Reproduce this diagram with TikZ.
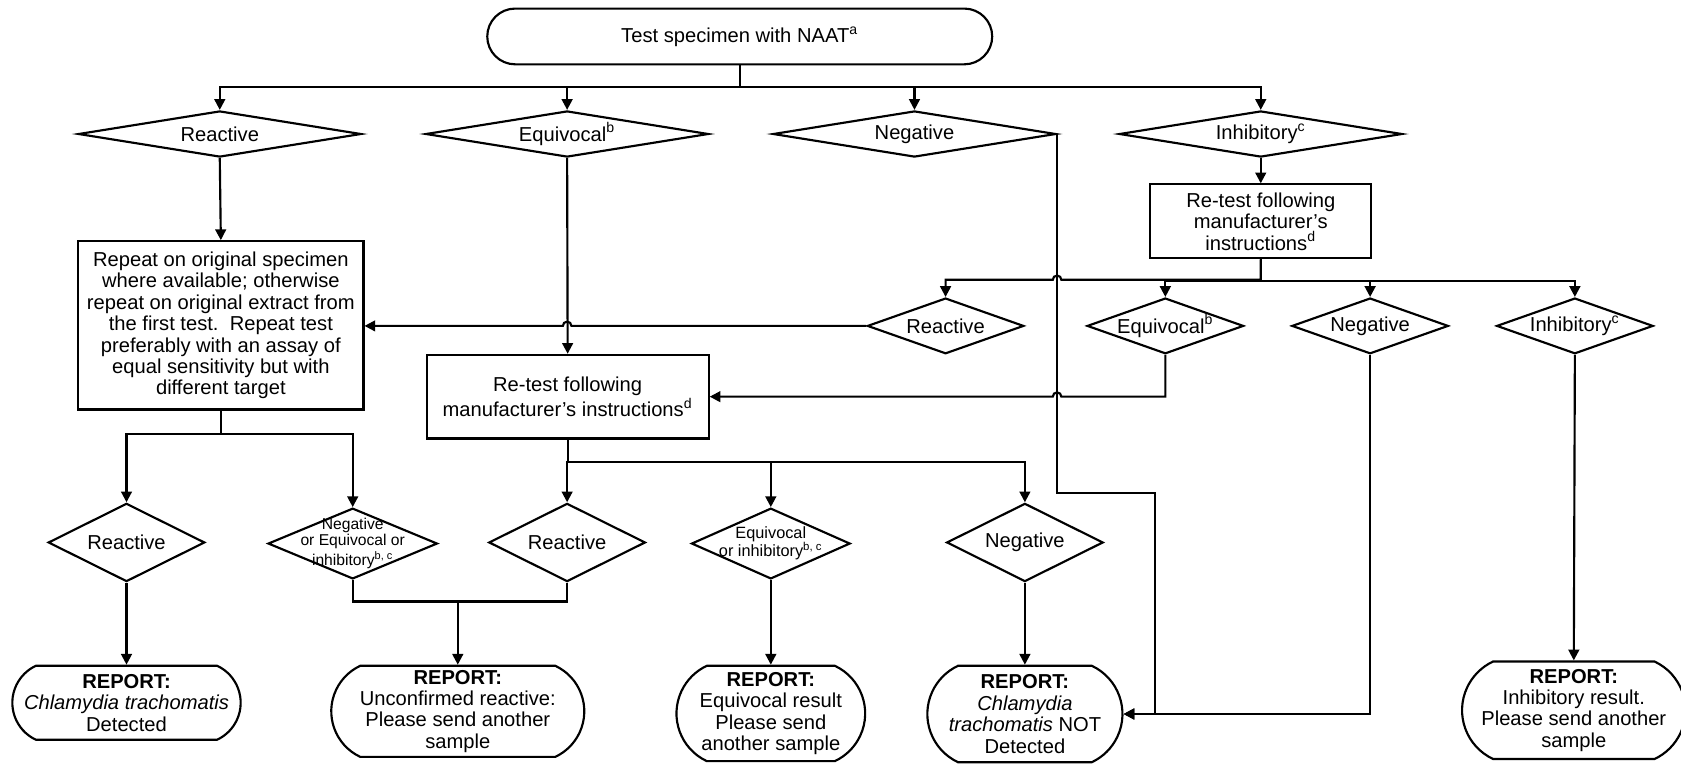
\documentclass[tikz,border=0pt]{standalone}
\usepackage{fontspec}
\setmainfont{Liberation Sans}
\usetikzlibrary{shapes,arrows.meta}

\begin{document}
\begin{tikzpicture}[
    x=0.5pt, y=-0.5pt,
    every node/.style={font=\fontsize{9.4}{10}\selectfont, align=center},
    arr/.style={line width=1pt, -{Triangle[length=5pt,width=5pt]}},
    line/.style={line width=1pt},
    terminal/.style={draw, line width=1pt, rounded rectangle, inner sep=0pt},
    report/.style={terminal, rounded rectangle arc length=130},
    decision/.style={draw, line width=1pt, diamond, inner sep=0pt},
    bigdec/.style={decision, minimum width=132pt, minimum height=21.5pt},
    middec/.style={decision, minimum width=73pt, minimum height=26pt},
    lowdec/.style={decision, minimum width=73pt, minimum height=36.5pt},
    process/.style={draw, line width=1pt, rectangle, inner sep=0pt},
    smalltext/.style={font=\fontsize{7.3}{7.5}\selectfont, align=center, inner sep=0pt}
  ]
  \useasboundingbox (0,0) rectangle (1568,712);

  \node[terminal, minimum width=235.5pt, minimum height=26pt] (test) at (690,34) {Test specimen with NAAT\textsuperscript{a}};

  \node[bigdec, label={center:Reactive}] (react1) at (205,125) {};
  \node[bigdec, label={center:Equivocal\textsuperscript{b}}] (equiv1) at (529,125) {};
  \node[bigdec, label={center:Negative}] (neg1) at (853,125) {};
  \node[bigdec, label={center:Inhibitory\textsuperscript{c}}] (inhib1) at (1176,125) {};

  \node[process, minimum width=133pt, minimum height=78.5pt] (repeat) at (206,303.5) {Repeat on original specimen\\where available; otherwise\\repeat on original extract from\\the first test.\ \ Repeat test\\preferably with an assay of\\equal sensitivity but with\\different target};
  \node[process, minimum width=131.5pt, minimum height=39pt] (retest) at (529.5,370) {Re-test following\\manufacturer’s instructions\textsuperscript{d}};
  \node[process, minimum width=103pt, minimum height=34.5pt] (retestb) at (1176,206.5) {Re-test following\\manufacturer’s\\instructions\textsuperscript{d}};

  \node[middec, label={center:Reactive}] (react2) at (882,304) {};
  \node[middec, label={center:Equivocal\textsuperscript{b}}] (equiv2) at (1087,304) {};
  \node[middec, label={center:Negative}] (neg2) at (1278,304) {};
  \node[middec, label={center:Inhibitory\textsuperscript{c}}] (inhib2) at (1469,304) {};

  \node[lowdec, label={center:Reactive}] (react3) at (118,506) {};
  \node[decision, minimum width=79pt, minimum height=33pt,
    label={[smalltext]center:{Negative\\or Equivocal or\\inhibitory\textsuperscript{b, c}}}] (other3) at (329,507) {};
  \node[lowdec, label={center:Reactive}] (react4) at (529,506) {};
  \node[decision, minimum width=74pt, minimum height=33pt,
    label={[smalltext, font=\fontsize{7.6}{8.5}\selectfont]center:{Equivocal\\or inhibitory\textsuperscript{b, c}}}] (equiv4) at (719,507) {};
  \node[lowdec, label={center:Negative}] (neg4) at (956,506) {};

  \node[report, minimum width=103.5pt, minimum height=34.5pt] (detected) at (118,655.5) {\textbf{REPORT:}\\\textit{Chlamydia trachomatis}\\Detected};
  \node[report, minimum width=118pt, minimum height=42.5pt] (unconf) at (427,663.5) {\textbf{REPORT:}\\Unconfirmed reactive:\\Please send another\\sample};
  \node[report, minimum width=88pt, minimum height=44.5pt] (equivrep) at (719,665.5) {\textbf{REPORT:}\\Equivocal result\\Please send\\another sample};
  \node[report, minimum width=91pt, minimum height=45pt] (notdet) at (956,666) {\textbf{REPORT:}\\\textit{Chlamydia}\\\textit{trachomatis} NOT\\Detected};
  \node[report, minimum width=100.5pt, minimum height=45.5pt] (inhibrep) at (1468,662.5) {\textbf{REPORT:}\\Inhibitory result.\\Please send another\\sample};

  \coordinate (hopA) at (neg1.east |- 0,261);
  \coordinate (hopB) at (equiv1.south |- react2.west);
  \coordinate (hopC) at (neg1.east |- retest.east);
  \coordinate (negbend) at (1077,460);
  \coordinate (merge) at (427,561);

  \draw[arr] (test.south) -- ++(0,20) -| (react1.north);
  \draw[arr] (test.south) -- ++(0,20) -| (equiv1.north);
  \draw[arr] (test.south) -- ++(0,20) -| (neg1.north);
  \draw[arr] (test.south) -- ++(0,20) -| (inhib1.north);

  \draw[arr] (react1.south) -- (repeat.north);
  \draw[arr] (equiv1.south) -- (retest.north);
  \draw[arr] (inhib1.south) -- (retestb.north);
  \draw[arr] (neg1.east) |- (negbend) |- (notdet.east);

  \draw[arr] (retestb.south) |- ([xshift=2pt]hopA) arc[start angle=0, end angle=180, radius=2pt] -| (react2.north);
  \draw[arr] (retestb.south) -- ++(0,20) -| (equiv2.north);
  \draw[arr] (retestb.south) -- ++(0,20) -| (neg2.north);
  \draw[arr] (retestb.south) -- ++(0,20) -| (inhib2.north);

  \draw[arr] (react2.west) -- ([xshift=2pt]hopB) arc[start angle=0, end angle=180, radius=2pt] -- (repeat.east |- react2.west);
  \draw[arr] (equiv2.south) |- ([xshift=2pt]hopC) arc[start angle=0, end angle=180, radius=2pt] -- (retest.east);
  \draw[arr] (neg2.south) |- (notdet.east);
  \draw[arr] (inhib2.south) -- (inhibrep.north);

  \draw[arr] (repeat.south) -- ++(0,22) -| (react3.north);
  \draw[arr] (repeat.south) -- ++(0,22) -| (other3.north);
  \draw[arr] (retest.south) -- ++(0,21) -| (react4.north);
  \draw[arr] (retest.south) -- ++(0,21) -| (equiv4.north);
  \draw[arr] (retest.south) -- ++(0,21) -| (neg4.north);

  \draw[arr] (react3.south) -- (detected.north);
  \draw[line] (other3.south) |- (merge);
  \draw[line] (react4.south) |- (merge);
  \draw[arr] (merge) -- (unconf.north);
  \draw[arr] (equiv4.south) -- (equivrep.north);
  \draw[arr] (neg4.south) -- (notdet.north);
\end{tikzpicture}
\end{document}
